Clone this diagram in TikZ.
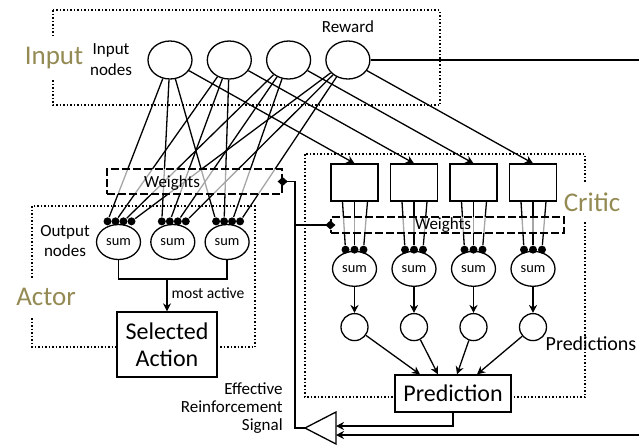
\documentclass[tikz,border=0pt]{standalone}
\usepackage{fontspec}
\setmainfont{Carlito}
\usepackage{tikz}
\usetikzlibrary{positioning, shapes.geometric, arrows.meta, calc}
\definecolor{olivegroupe}{RGB}{148,138,84}
\tikzstyle{entree}=[ellipse, draw, minimum width=22pt, minimum height=19pt, inner sep=0pt]
\tikzstyle{somme}=[ellipse, draw, minimum width=22pt, minimum height=17.5pt, inner sep=0pt, font=\fontsize{7.2}{8}\selectfont]
\tikzstyle{point}=[circle, fill=black, inner sep=0pt, minimum size=4pt]
\tikzstyle{boite}=[rectangle, draw, minimum width=23.5pt, minimum height=18.5pt]
\tikzstyle{prevision}=[circle, draw, minimum size=13.5pt, inner sep=0pt]
\tikzstyle{gros}=[rectangle, draw, fill=white, align=center, font=\fontsize{12}{13.5}\selectfont]
\tikzstyle{cadre}=[densely dotted, line width=0.75pt]
\tikzstyle{poids}=[rectangle, draw, dash pattern=on 4pt off 1.5pt, fill=white, fill opacity=0.65, inner sep=0pt]
\tikzstyle{groupe}=[fill=white, text=olivegroupe, inner xsep=2pt, inner ysep=5pt, font=\fontsize{13.5}{14}\selectfont]
\tikzstyle{texte}=[align=center, font=\fontsize{8.5}{10.5}\selectfont]
\tikzstyle{fil}=[line width=0.65pt]
\tikzstyle{fleche}=[line width=0.65pt, -{Stealth[length=4pt, width=4pt]}]
\tikzstyle{signal}=[line width=0.65pt, -{Diamond[length=5pt, width=4.5pt]}, shorten >=-2.5pt]

\begin{document}
\begin{tikzpicture}[x=0.5pt, y=-0.5pt, line width=0.65pt]
\useasboundingbox (0,0) rectangle (639,447);

% Cadres
\draw[cadre] (53,10) rectangle (440,105);
\draw[cadre] (32,206) rectangle (255,347);
\draw[cadre] (305,154) rectangle (585,397);
\node[groupe] (lblinput) at (54,58) {Input};
\node[groupe] (lblactor) at (46,297) {Actor};
\node[groupe] (lblcritic) at (592,202) {Critic};

% Noeuds d'entree
\node[entree] (in1) at (170,60) {};
\node[entree, right=7pt of in1] (in2) {};
\node[entree, right=7pt of in2] (in3) {};
\node[entree, right=7pt of in3] (in4) {};
\node[texte, left=4pt of in1] (txtin) {Input\\nodes};
\node[texte, above=0pt of in4] (txtreward) {Reward};

% Acteur
\node[somme] (s1) at (118.5,242) {sum};
\node[somme, right=4.5pt of s1] (s2) {sum};
\node[somme, right=4.5pt of s2] (s3) {sum};
\node[texte, font=\fontsize{8.5}{10}\selectfont] (txtout) at (65,241) {Output\\nodes};
\node[gros, minimum width=50pt, minimum height=32.5pt] (action) at (167,344.5) {Selected\\Action};

% Critique
\node[boite] (r1) at (354.5,182.5) {};
\node[boite, right=5.6pt of r1] (r2) {};
\node[boite, right=5.6pt of r2] (r3) {};
\node[boite, right=5.6pt of r3] (r4) {};
\node[somme, below=24.5pt of r1] (c1) {sum};
\node[somme, below=24.5pt of r2] (c2) {sum};
\node[somme, below=24.5pt of r3] (c3) {sum};
\node[somme, below=24.5pt of r4] (c4) {sum};
\node[prevision, below=13pt of c1] (p1) {};
\node[prevision, below=13pt of c2] (p2) {};
\node[prevision, below=13pt of c3] (p3) {};
\node[prevision, below=13pt of c4] (p4) {};
\node[gros, minimum width=58pt, minimum height=18.5pt] (prediction) at (453,393.5) {Prediction};
\node[texte, font=\fontsize{10}{12}\selectfont] (txtpred) at (591,344) {Predictions};

% Points de connexion
\foreach \j in {1,2,3}
  \foreach \i/\dx in {1/-11, 2/-3, 3/5, 4/13}
    \node[point] (s\j-\i) at ($(s\j.north)+(\dx,-2.5)$) {};
\foreach \j in {1,...,4}
  \foreach \i/\dx in {1/-9, 2/0, 3/9}
    \node[point] (c\j-\i) at ($(c\j.north)+(\dx,-1)$) {};

% Connexions
\foreach \j in {1,2,3}
  \foreach \i in {1,...,4}
    \draw[fil] (in\i) -- (s\j-\i);
\foreach \i in {1,...,4}
  \draw[fleche] (in\i) -- (r\i.north);
\foreach \j in {1,...,4}
  \foreach \i/\ex in {1/-12, 2/0, 3/13}
    \draw[fil] ($(r\j.south)+(\ex,0)$) -- (c\j-\i);
\foreach \i in {1,...,4}
  \draw[fleche] (c\i) -- (p\i);
\foreach \i/\dx in {1/-33, 2/-15, 3/4, 4/24}
  \draw[fleche] (p\i) -- ($(prediction.north)+(\dx,0)$);

% Selection de l'action
\coordinate (fourche) at (167,279);
\draw[fil] (s1.south) |- (fourche) -| (s3.south);
\draw[fleche] (fourche) -- (action);
\node[texte, font=\fontsize{7.8}{9}\selectfont] (txtactif) at (208,293) {most active};

% Poids
\node[poids, minimum width=87.5pt, minimum height=12.5pt] (wa) at (194.5,181.5) {};
\node[poids, minimum width=116.5pt, minimum height=8pt] (wc) at (447.5,225) {};
\node[texte] (txtwa) at (172,183) {Weights};
\node[texte] (txtwc) at (443,225) {Weights};

% Signal de renforcement
\coordinate (ampli) at (305,428);
\draw[fil] (ampli) -- ++(31,-16) -- ++(0,32) -- cycle;
\coordinate (ampliA) at (336,426);
\coordinate (ampliB) at (336,435);
\coordinate (bordA) at (639,60);
\coordinate (bordB) at (639,435);
\coordinate (jonction) at (295,225);
\draw[fil] (in4) -- (bordA);
\draw[fleche] (bordB) -- (ampliB);
\draw[fleche] (prediction.south) |- (ampliA);
\draw[signal] (ampli) -- ++(-10,0) |- (wa.east);
\draw[signal] (jonction) -- (wc.west);
\node[texte, align=right, anchor=east, font=\fontsize{8.5}{9}\selectfont] (txtsignal) at (290,408) {Effective\\Reinforcement\\Signal};
\end{tikzpicture}
\end{document}
